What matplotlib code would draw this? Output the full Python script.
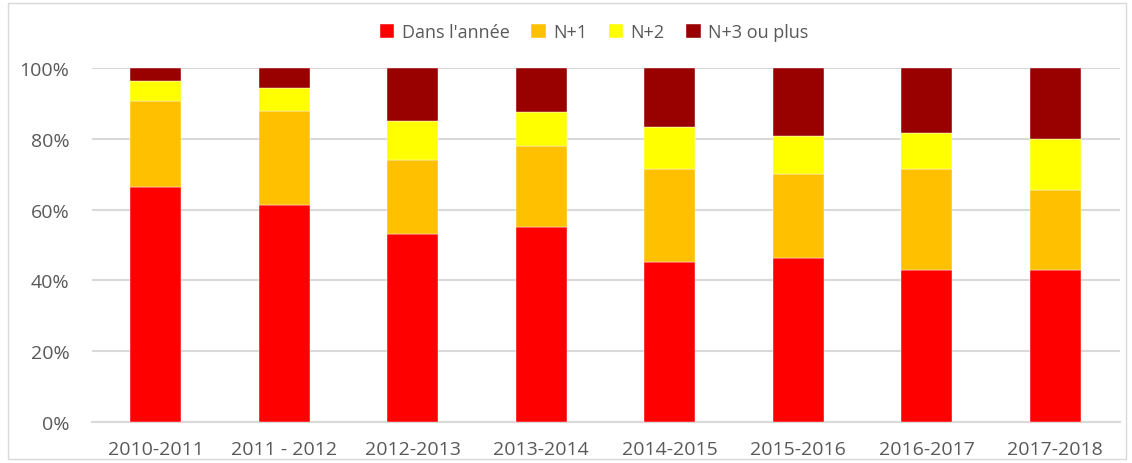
import matplotlib.pyplot as plt
from matplotlib.patches import Rectangle
from matplotlib.ticker import FuncFormatter
import numpy as np

years = ["2010-2011", "2011 - 2012", "2012-2013", "2013-2014",
         "2014-2015", "2015-2016", "2016-2017", "2017-2018"]
dans_annee = [66.3, 61.2, 53.2, 55.0, 45.2, 46.4, 42.9, 42.9]
n_plus_1 = [24.5, 26.6, 20.9, 23.1, 26.3, 23.7, 28.6, 22.7]
n_plus_2 = [5.5, 6.5, 11.0, 9.4, 11.8, 10.7, 10.0, 14.3]
n_plus_3 = [100 - a - b - c for a, b, c in zip(dans_annee, n_plus_1, n_plus_2)]

series = [
    ("Dans l'année", dans_annee, "#ff0000"),
    ("N+1", n_plus_1, "#ffc000"),
    ("N+2", n_plus_2, "#ffff00"),
    ("N+3 ou plus", n_plus_3, "#990000"),
]

plt.rcParams['font.family'] = ['Open Sans', 'DejaVu Sans']
text_color = "#595959"
grid_color = "#d9d9d9"

fig = plt.figure(figsize=(11.32, 4.64), dpi=100)
W, H = 1132, 464
ax = fig.add_axes([91.5 / W, 1 - 423 / H, (1119.5 - 91.5) / W, (423 - 69) / H])

# light frame around the chart
fig.patches.append(Rectangle((8 / W, 4 / H), 1118 / W, 456 / H, transform=fig.transFigure,
                             fill=False, edgecolor="#d9d9d9", linewidth=1))

x = np.arange(len(years))
bottom = np.zeros(len(years))
for label, vals, color in series:
    ax.bar(x, vals, width=0.4, bottom=bottom, color=color, label=label,
           edgecolor="white", linewidth=0.3, zorder=3)
    bottom += np.array(vals)

ax.set_xlim(-0.5, len(years) - 0.5)
ax.set_ylim(0, 100)
ax.set_yticks(range(0, 101, 20))
ax.yaxis.set_major_formatter(FuncFormatter(lambda v, p: f"{int(v)}%"))
ax.set_xticks(x)
ax.set_xticklabels(years)
ax.grid(axis="y", color=grid_color, linewidth=1.5, zorder=0)
ax.tick_params(axis="both", length=0, labelsize=14, colors=text_color)
ax.tick_params(axis="x", pad=13)
ax.tick_params(axis="y", pad=16)
for s in ["top", "right", "left"]:
    ax.spines[s].set_visible(False)
ax.spines["bottom"].set_color(grid_color)
ax.spines["bottom"].set_linewidth(1.5)

leg = fig.legend(loc="center", bbox_to_anchor=(594 / W, 1 - 33 / H), ncol=4, frameon=False,
                 fontsize=13, handlelength=0.8, handleheight=0.8, handletextpad=0.4,
                 columnspacing=1.2)
for t in leg.get_texts():
    t.set_color(text_color)

fig.savefig("out.png", dpi=100)
